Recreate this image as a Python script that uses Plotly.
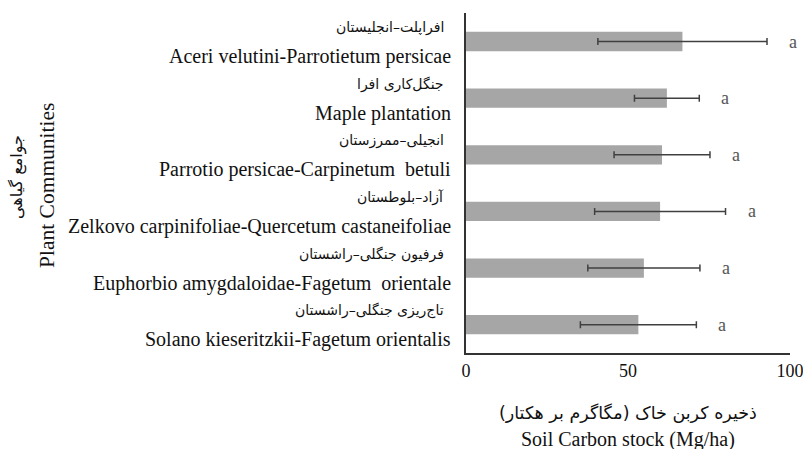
import plotly.graph_objects as go

communities_en = [
    "Aceri velutini-Parrotietum persicae",
    "Maple plantation",
    "Parrotio persicae-Carpinetum  betuli",
    "Zelkovo carpinifoliae-Quercetum castaneifoliae",
    "Euphorbio amygdaloidae-Fagetum  orientale",
    "Solano kieseritzkii-Fagetum orientalis",
]
communities_fa = [
    "افراپلت–انجلیستان",
    "جنگل‌کاری افرا",
    "انجیلی–ممرزستان",
    "آزاد–بلوطستان",
    "فرفیون جنگلی–راشستان",
    "تاج‌ریزی جنگلی–راشستان",
]
carbon_stock = [66.8, 62.0, 60.5, 59.9, 54.9, 53.2]
std_error = [26.1, 10.0, 14.8, 20.2, 17.3, 17.9]
group_letters = ["a", "a", "a", "a", "a", "a"]
x_ticks = [0, 50, 100]

SERIF = "Liberation Serif, Times New Roman, serif"
FA = "DejaVu Sans, Liberation Serif, serif"

fig = go.Figure()
fig.add_trace(go.Bar(
    x=carbon_stock, y=communities_en, orientation="h",
    width=0.34,
    marker=dict(color="#a6a6a6", line=dict(width=0)),
    error_x=dict(type="data", array=std_error, visible=True,
                 color="#404040", thickness=1.5, width=3.5),
    showlegend=False,
))

annotations = []
for en, fa, v, e, l in zip(communities_en, communities_fa, carbon_stock, std_error, group_letters):
    annotations.append(dict(x=0, xref="paper", y=en, yref="y", text=fa,
                            xanchor="right", yanchor="middle", xshift=-20, yshift=14,
                            showarrow=False, font=dict(family=FA, size=14, color="#111")))
    annotations.append(dict(x=0, xref="paper", y=en, yref="y", text=en,
                            xanchor="right", yanchor="middle", xshift=-13, yshift=-15,
                            showarrow=False, font=dict(family=SERIF, size=20, color="#111")))
    annotations.append(dict(x=v + e, xref="x", y=en, yref="y", text=l,
                            xanchor="center", yanchor="middle", xshift=26, showarrow=False,
                            font=dict(family=SERIF, size=18, color="#555")))

# axis titles
annotations += [
    dict(x=0.5, xref="paper", y=0, yref="paper", yshift=-60, text="ذخیره کربن خاک (مگاگرم بر هکتار)",
         showarrow=False, xanchor="center", yanchor="middle", font=dict(family=FA, size=17.5, color="#111")),
    dict(x=0.5, xref="paper", y=0, yref="paper", yshift=-86, text="Soil Carbon stock (Mg/ha)",
         showarrow=False, xanchor="center", yanchor="middle", font=dict(family=SERIF, size=20, color="#111")),
    dict(x=0, xref="paper", xshift=-449, y=0.5, yref="paper", yshift=6, text="جوامع گیاهی",
         textangle=-90, showarrow=False, xanchor="center", yanchor="middle",
         font=dict(family=FA, size=16, color="#111")),
    dict(x=0, xref="paper", xshift=-419, y=0.5, yref="paper", yshift=-3, text="Plant Communities",
         textangle=-90, showarrow=False, xanchor="center", yanchor="middle",
         font=dict(family=SERIF, size=21.5, color="#111")),
]

fig.update_layout(
    width=803, height=449,
    margin=dict(l=466, r=13, t=13, b=96, autoexpand=False),
    paper_bgcolor="white", plot_bgcolor="white",
    annotations=annotations,
    xaxis=dict(range=[0, 100], tickvals=x_ticks, ticks="", showgrid=False, zeroline=False,
               showline=True, linecolor="#333", linewidth=2, ticklabeloverflow="allow",
               automargin=False,
               tickfont=dict(family=SERIF, size=18, color="#111")),
    yaxis=dict(autorange="reversed", showticklabels=False, ticks="", showgrid=False,
               showline=True, linecolor="#333", linewidth=2, automargin=False),
)

fig.write_html(
    "out.html",
    config={"displayModeBar": False},
    post_script="document.body.style.margin='0';document.body.style.overflow='hidden';",
)
